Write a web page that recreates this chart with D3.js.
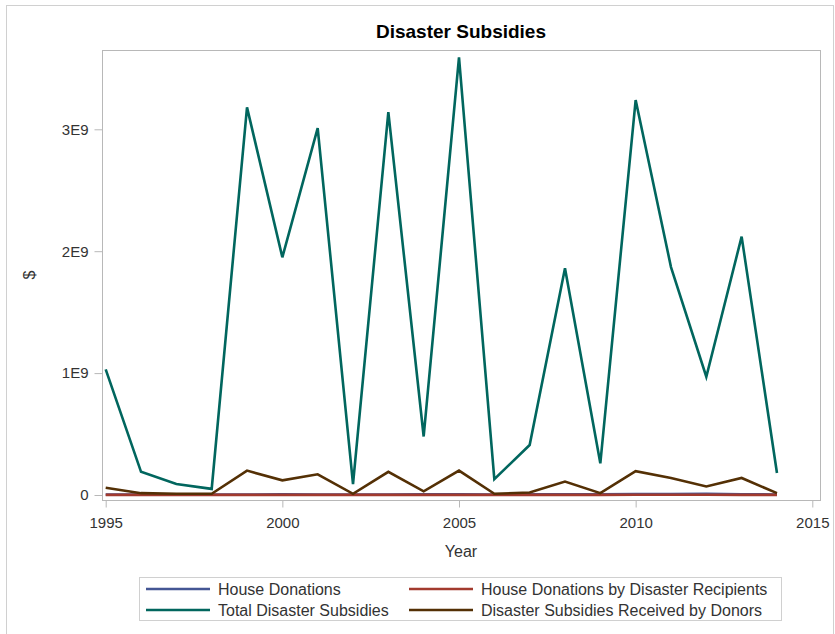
<!DOCTYPE html>
<meta charset="utf-8">
<script src="https://d3js.org/d3.v7.min.js"></script>
<style>
  body { margin: 0; background: #fff; }
  text { font-family: "Liberation Sans", Arial, sans-serif; fill: #333; }
</style>
<svg id="chart" width="835" height="634"></svg>
<script>
  // data, values in dollars
  const years = d3.range(1995, 2015)
  const houseDonations = [0.004, 0.003, 0.003, 0.003, 0.004, 0.005, 0.004, 0.003, 0.004, 0.005, 0.006, 0.004, 0.005, 0.006, 0.005, 0.008, 0.008, 0.01, 0.006, 0.004].map(v => v * 1e9)
  const houseDonationsRecip = [0.001, 0.001, 0.001, 0.001, 0.001, 0.001, 0.001, 0.001, 0.001, 0.001, 0.001, 0.001, 0.001, 0.001, 0.001, 0.002, 0.002, 0.002, 0.001, 0.001].map(v => v * 1e9)
  const totalSubsidies = [1.03, 0.19, 0.09, 0.05, 3.18, 1.95, 3.01, 0.09, 3.14, 0.48, 3.59, 0.13, 0.41, 1.86, 0.26, 3.24, 1.87, 0.97, 2.12, 0.18].map(v => v * 1e9)
  const donorSubsidies = [0.06, 0.015, 0.01, 0.01, 0.2, 0.12, 0.17, 0.01, 0.19, 0.03, 0.2, 0.01, 0.02, 0.11, 0.015, 0.195, 0.14, 0.07, 0.14, 0.015].map(v => v * 1e9)
  const yTicks = [0, 1e9, 2e9, 3e9]
  const yTickLabels = ["0", "1E9", "2E9", "3E9"]
  const xTicks = [1995, 2000, 2005, 2010, 2015]

  const series = [
    {name: "House Donations", values: houseDonations, color: "#445694"},
    {name: "House Donations by Disaster Recipients", values: houseDonationsRecip, color: "#A23A2E"},
    {name: "Total Disaster Subsidies", values: totalSubsidies, color: "#01665E"},
    {name: "Disaster Subsidies Received by Donors", values: donorSubsidies, color: "#543005"}
  ]

  const svg = d3.select("#chart")
  const frame = {left: 102, right: 820, top: 50, bottom: 500}

  // outer border
  svg.append("rect").attr("x", 6.5).attr("y", 5.5).attr("width", 827).attr("height", 640)
    .attr("fill", "none").attr("stroke", "#d0d0d0")

  const x = d3.scaleLinear().domain([1995, 2015]).range([105.7, 812.3])
  const y = d3.scaleLinear().domain([0, 1e9]).range([495, 373.1])

  svg.append("text")
    .attr("x", (frame.left + frame.right) / 2).attr("y", 38)
    .attr("text-anchor", "middle")
    .style("font-size", "19px").style("font-weight", "bold").style("fill", "#000")
    .text("Disaster Subsidies")

  // plot frame
  svg.append("rect")
    .attr("x", frame.left + 0.5).attr("y", frame.top + 0.5)
    .attr("width", frame.right - frame.left).attr("height", frame.bottom - frame.top)
    .attr("fill", "none").attr("stroke", "#b8b8b8")

  // axes
  const xAxis = svg.append("g").attr("transform", "translate(0," + (frame.bottom + 0.5) + ")")
    .call(d3.axisBottom(x).tickValues(xTicks).tickFormat(d3.format("d")).tickSize(7).tickSizeOuter(0))
  xAxis.select(".domain").remove()
  xAxis.selectAll("line").attr("stroke", "#b8b8b8")
  xAxis.selectAll("text").style("font-size", "15px").attr("dy", 0).attr("y", 27)

  const yAxis = svg.append("g").attr("transform", "translate(" + (frame.left + 0.5) + ",0)")
    .call(d3.axisLeft(y).tickValues(yTicks).tickFormat((d, i) => yTickLabels[i]).tickSize(8).tickSizeOuter(0))
  yAxis.select(".domain").remove()
  yAxis.selectAll("line").attr("stroke", "#b8b8b8")
  yAxis.selectAll("text").style("font-size", "15px").attr("x", -14)

  svg.append("text")
    .attr("x", (frame.left + frame.right) / 2).attr("y", 557)
    .attr("text-anchor", "middle").style("font-size", "16px")
    .text("Year")
  svg.append("text")
    .attr("transform", "translate(35,275) rotate(-90)")
    .attr("text-anchor", "middle").style("font-size", "16px")
    .text("$")

  // lines
  const line = d3.line().x((d, i) => x(years[i])).y(d => y(d))
  svg.selectAll(".series")
    .data(series).enter()
    .append("path")
    .attr("fill", "none")
    .attr("stroke", d => d.color)
    .attr("stroke-width", 2.6)
    .attr("stroke-linejoin", "miter")
    .attr("d", d => line(d.values))

  // legend
  svg.append("rect").attr("x", 139.5).attr("y", 577.5).attr("width", 642).attr("height", 43)
    .attr("fill", "none").attr("stroke", "#d0d0d0")
  const cols = [146, 409]
  const rows = [589, 610]
  const leg = svg.selectAll(".leg")
    .data(series).enter()
    .append("g")
    .attr("transform", (d, i) => "translate(" + cols[i % 2] + "," + rows[Math.floor(i / 2)] + ")")
  leg.append("line").attr("x1", 0).attr("x2", 64).attr("y1", 0).attr("y2", 0)
    .attr("stroke", d => d.color).attr("stroke-width", 2.6)
  leg.append("text").attr("x", 72).attr("dy", "0.36em")
    .style("font-size", "16px")
    .text(d => d.name)
</script>
